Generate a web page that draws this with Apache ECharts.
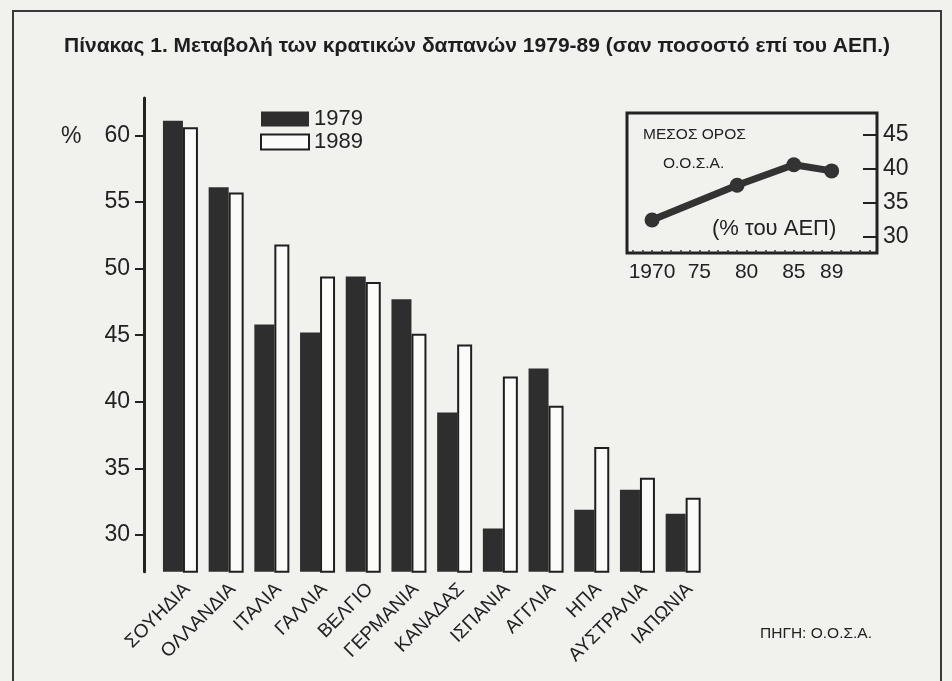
<!DOCTYPE html>
<html>
<head>
<meta charset="utf-8">
<script src="https://cdn.jsdelivr.net/npm/echarts@6/dist/echarts.min.js"></script>
<style>
  html, body { margin: 0; padding: 0; background: #f1f1ee; }
  #chart { width: 952px; height: 681px; position: absolute; left: 0; top: 0; }
  #frame { position: absolute; left: 12px; top: 10px; width: 926px; height: 700px; border: 2px solid #3a3a3a; pointer-events: none; }
</style>
</head>
<body>
<div id="chart"></div>
<div id="frame"></div>
<script>
// ---- data ----
const countries = ['ΣΟΥΗΔΙΑ', 'ΟΛΛΑΝΔΙΑ', 'ΙΤΑΛΙΑ', 'ΓΑΛΛΙΑ', 'ΒΕΛΓΙΟ', 'ΓΕΡΜΑΝΙΑ', 'ΚΑΝΑΔΑΣ', 'ΙΣΠΑΝΙΑ', 'ΑΓΓΛΙΑ', 'ΗΠΑ', 'ΑΥΣΤΡΑΛΙΑ', 'ΙΑΠΩΝΙΑ'];
const values1979 = [61.1, 56.1, 45.8, 45.2, 49.4, 47.7, 39.2, 30.5, 42.5, 31.9, 33.4, 31.6];
const values1989 = [60.6, 55.7, 51.8, 49.4, 49.0, 45.1, 44.3, 41.9, 39.7, 36.6, 34.3, 32.8];
const yTicks = [30, 35, 40, 45, 50, 55, 60];

const oecdYears = [1970, 1979, 1985, 1989];
const oecdValues = [32.5, 37.6, 40.6, 39.7];
const insetYearTicks = [1970, 1975, 1980, 1985, 1989];
const insetYearLabels = ['1970', '75', '80', '85', '89'];
const insetYTicks = [30, 35, 40, 45];
const insetMinorYears = [1968, 1969, 1970, 1971, 1972, 1973, 1974, 1975, 1976, 1977, 1978, 1979, 1980, 1981, 1982, 1983, 1984, 1985, 1986, 1987, 1988, 1989, 1990, 1991, 1992, 1993];

const FONT = '"Liberation Sans", Arial, Helvetica, sans-serif';
const INK = '#222222';

const chart = echarts.init(document.getElementById('chart'), null, { renderer: 'canvas' });
chart.setOption({
  backgroundColor: 'transparent',
  animation: false,
  textStyle: { fontFamily: FONT, color: INK },
  title: [
    { text: 'Πίνακας 1. Μεταβολή των κρατικών δαπανών 1979-89 (σαν ποσοστό επί του ΑΕΠ.)',
      left: 64, top: 36, padding: 0, textStyle: { fontFamily: FONT, fontSize: 21, fontWeight: 'bold', color: '#1e1e1e' } },
    { text: '%', left: 61, top: 125, padding: 0, textStyle: { fontFamily: FONT, fontSize: 23, fontWeight: 'normal', color: INK } },
    { text: 'ΜΕΣΟΣ ΟΡΟΣ', left: 643, top: 127, padding: 0, textStyle: { fontFamily: FONT, fontSize: 15.5, fontWeight: 'normal', color: INK } },
    { text: 'Ο.Ο.Σ.Α.', left: 663, top: 156, padding: 0, textStyle: { fontFamily: FONT, fontSize: 15.5, fontWeight: 'normal', color: INK } },
    { text: '(% του ΑΕΠ)', left: 712, top: 218, padding: 0, textStyle: { fontFamily: FONT, fontSize: 22, fontWeight: 'normal', color: INK } },
    { text: 'ΠΗΓΗ: Ο.Ο.Σ.Α.', left: 760, top: 626, padding: 0, textStyle: { fontFamily: FONT, fontSize: 15.5, fontWeight: 'normal', color: INK } }
  ],
  legend: {
    orient: 'vertical', left: 260, top: 108, padding: 0, itemWidth: 48, itemHeight: 15, itemGap: 1,
    icon: 'rect', data: ['1979', '1989'],
    textStyle: { fontFamily: FONT, fontSize: 22, color: INK, lineHeight: 22 }
  },
  grid: [
    { left: 157.6, right: 246, top: 98, bottom: 109.3, containLabel: false },
    { left: 627, top: 113, width: 250, height: 140, show: true, borderColor: '#222', borderWidth: 3, backgroundColor: 'transparent' }
  ],
  xAxis: [
    { type: 'category', gridIndex: 0, data: countries, boundaryGap: true,
      axisLine: { show: false }, axisTick: { show: false },
      axisLabel: { rotate: 45, align: 'right', verticalAlign: 'top', margin: 8, interval: 0,
        fontFamily: FONT, fontSize: 19, color: INK } },
    { type: 'value', gridIndex: 1, min: 1967.35, max: 1993.8,
      axisLine: { show: false },
      splitLine: { show: false },
      axisTick: { show: true, inside: true, length: 3, customValues: insetMinorYears, lineStyle: { color: '#333', width: 1.5 } },
      axisLabel: { customValues: insetYearTicks, margin: 9, fontFamily: FONT, fontSize: 21, color: INK,
        formatter: v => insetYearLabels[insetYearTicks.indexOf(v)] } }
  ],
  yAxis: [
    { type: 'value', gridIndex: 0, min: 27.25, max: 62.8, offset: 13.6,
      axisLine: { show: true, lineStyle: { color: '#222', width: 3 } },
      axisTick: { show: true, length: 9, customValues: yTicks, lineStyle: { color: '#222', width: 2 } },
      axisLabel: { customValues: yTicks, margin: 14, fontFamily: FONT, fontSize: 23, color: INK },
      splitLine: { show: false } },
    { type: 'value', gridIndex: 1, position: 'right', min: 27.65, max: 48.2,
      axisLine: { show: false },
      axisTick: { show: true, inside: true, length: 14, customValues: insetYTicks, lineStyle: { color: '#222', width: 2 } },
      axisLabel: { customValues: insetYTicks, margin: 6, fontFamily: FONT, fontSize: 23, color: INK },
      splitLine: { show: false } }
  ],
  series: [
    { name: '1979', type: 'bar', xAxisIndex: 0, yAxisIndex: 0, data: values1979, barWidth: 20, barGap: '0%',
      itemStyle: { color: '#2e2e2e' } },
    { name: '1989', type: 'bar', xAxisIndex: 0, yAxisIndex: 0, data: values1989, barWidth: 15, barGap: '0%',
      itemStyle: { color: '#fbfbfa', borderColor: '#1f1f1f', borderWidth: 2 } },
    { name: 'ΟΟΣΑ', type: 'line', xAxisIndex: 1, yAxisIndex: 1,
      data: oecdYears.map((y, i) => [y, oecdValues[i]]),
      symbol: 'circle', symbolSize: 15,
      lineStyle: { color: '#333', width: 7 },
      itemStyle: { color: '#333' } }
  ]
});
</script>
</body>
</html>
